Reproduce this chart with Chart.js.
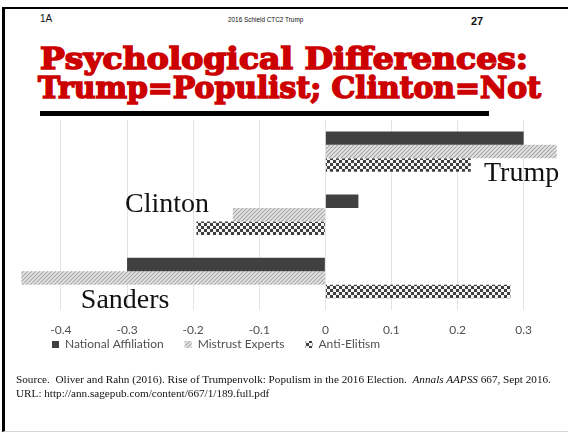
<!DOCTYPE html>
<html>
<head>
<meta charset="utf-8">
<script src="https://cdn.jsdelivr.net/npm/chart.js@4.4.1/dist/chart.umd.min.js"></script>
<style>
  html, body { margin: 0; padding: 0; background: #fff; }
  body { width: 568px; height: 433px; position: relative; overflow: hidden; }
  .frame {
    position: absolute; left: 2px; top: 7px; width: 580px; height: 422px;
    border-top: 2px solid #000; border-left: 3px solid #000; border-bottom: 1px solid #d8d8d8;
  }
  .hdr { position: absolute; font-family: "Liberation Sans", Arial, sans-serif; color: #111; }
  .tline {
    position: absolute; white-space: nowrap; transform-origin: 0 0;
    font-family: "DejaVu Serif", serif; font-weight: bold; font-size: 30px; line-height: 32px;
    color: #cc0000; -webkit-text-stroke: 1.6px #cc0000;
  }
  .rule { position: absolute; left: 40px; top: 111px; width: 449px; height: 5px; background: #000; }
  #chart { position: absolute; left: 0; top: 115px; }
  .source {
    position: absolute; left: 16px; top: 372px; white-space: pre;
    font-family: "Liberation Serif", "Times New Roman", serif; font-size: 11.2px; line-height: 14px; color: #111;
  }
</style>
</head>
<body>
<div class="frame"></div>
<canvas id="chart" width="568" height="278"></canvas>

<div class="hdr" style="left:40px; top:13px; font-size:10px;">1A</div>
<div class="hdr" style="left:228px; top:16px; font-size:6.4px;">2016  Schield CTC2 Trump</div>
<div class="hdr" style="left:471px; top:15px; font-size:11px; font-weight:bold;">27</div>

<div class="tline" id="t1" data-w="488" style="left:40px; top:43px;">Psychological Differences:</div>
<div class="tline" id="t2" data-w="503" style="left:38px; top:72px;">Trump=Populist; Clinton=Not</div>
<div class="rule"></div>

<div class="source">Source.  Oliver and Rahn (2016). Rise of Trumpenvolk: Populism in the 2016 Election.  <i>Annals AAPSS</i> 667, Sept 2016.
URL: http://ann.sagepub.com/content/667/1/189.full.pdf</div>

<script>
// Oliver & Rahn (2016), mean differences by candidate supporters
const candidates = ['Trump', 'Clinton', 'Sanders'];
const nationalAffiliation = [0.30, 0.05, -0.30];
const mistrustExperts = [0.35, -0.14, -0.46];
const antiElitism = [0.22, -0.195, 0.28];
const xTicks = [-0.4, -0.3, -0.2, -0.1, 0, 0.1, 0.2, 0.3];

// squeeze the title lines to their widths
document.querySelectorAll('.tline').forEach(el => {
  const w = el.getBoundingClientRect().width;
  el.style.transform = 'scaleX(' + (Number(el.dataset.w) / w) + ')';
});

const canvas = document.getElementById('chart');
const ctx = canvas.getContext('2d');

// fine diagonal hatch
function hatchPattern() {
  const c = document.createElement('canvas');
  c.width = 4; c.height = 4;
  const g = c.getContext('2d');
  g.fillStyle = '#e6e6e6';
  g.fillRect(0, 0, 4, 4);
  g.strokeStyle = '#a4a4a4';
  g.lineWidth = 1.1;
  g.beginPath();
  g.moveTo(-1, 5); g.lineTo(5, -1);
  g.moveTo(-1, 1); g.lineTo(1, -1);
  g.moveTo(3, 5); g.lineTo(5, 3);
  g.stroke();
  return ctx.createPattern(c, 'repeat');
}

// small checkerboard
function checkerPattern() {
  const c = document.createElement('canvas');
  c.width = 6; c.height = 6;
  const g = c.getContext('2d');
  g.fillStyle = '#f4f4f4';
  g.fillRect(0, 0, 6, 6);
  g.fillStyle = '#404040';
  g.fillRect(0, 0, 3, 3);
  g.fillRect(3, 3, 3, 3);
  return ctx.createPattern(c, 'repeat');
}

Chart.defaults.font.family = 'Lato, "Open Sans", sans-serif';

// candidate names written next to their bar groups
const nameSpots = [
  { at: 0.24, dy: 29 },
  { at: -0.303, dy: -2.5 },
  { at: -0.37, dy: 29.5 }
];
const groupNames = {
  id: 'groupNames',
  afterDatasetsDraw(chart) {
    const { ctx, scales: { x, y } } = chart;
    ctx.save();
    ctx.font = '28px "Liberation Serif", "Times New Roman", serif';
    ctx.fillStyle = '#111';
    ctx.textBaseline = 'alphabetic';
    candidates.forEach((name, i) => {
      const s = nameSpots[i];
      ctx.fillText(name, x.getPixelForValue(s.at), y.getPixelForValue(i) + s.dy);
    });
    ctx.restore();
  }
};

// pull the legend up under the tick labels and indent it a bit
const legendNudge = {
  id: 'legendNudge',
  beforeDraw(chart) {
    const lg = chart.legend;
    const area = chart.chartArea;
    const w = lg.right - lg.left, h = lg.bottom - lg.top;
    lg.left = area.left + 11;
    lg.right = lg.left + w;
    lg.top = area.bottom + 8;
    lg.bottom = lg.top + h;
  }
};

new Chart(ctx, {
  type: 'bar',
  data: {
    labels: candidates,
    datasets: [
      { label: 'National Affiliation', data: nationalAffiliation, backgroundColor: '#404040' },
      { label: 'Mistrust Experts', data: mistrustExperts, backgroundColor: hatchPattern() },
      { label: 'Anti-Elitism', data: antiElitism, backgroundColor: checkerPattern() }
    ]
  },
  options: {
    indexAxis: 'y',
    responsive: false,
    animation: false,
    layout: { padding: { top: 5, left: 20, right: 8, bottom: 0 } },
    datasets: { bar: { categoryPercentage: 0.64, barPercentage: 1, borderWidth: 0 } },
    scales: {
      x: {
        min: -0.462,
        max: 0.355,
        afterBuildTicks: scale => { scale.ticks = xTicks.map(v => ({ value: v })); },
        grid: { color: '#e3e3e3', drawTicks: false },
        border: { display: false },
        ticks: {
          padding: 13,
          color: '#505050',
          font: { size: 12 },
          callback: v => (v === 0 ? '0' : v.toFixed(1))
        }
      },
      y: { display: false }
    },
    plugins: {
      legend: {
        position: 'bottom',
        align: 'start',
        labels: {
          boxWidth: 7,
          boxHeight: 7,
          padding: 21,
          color: '#505050',
          font: { size: 12 }
        }
      },
      tooltip: { enabled: false }
    }
  },
  plugins: [legendNudge, groupNames]
});
</script>
</body>
</html>
